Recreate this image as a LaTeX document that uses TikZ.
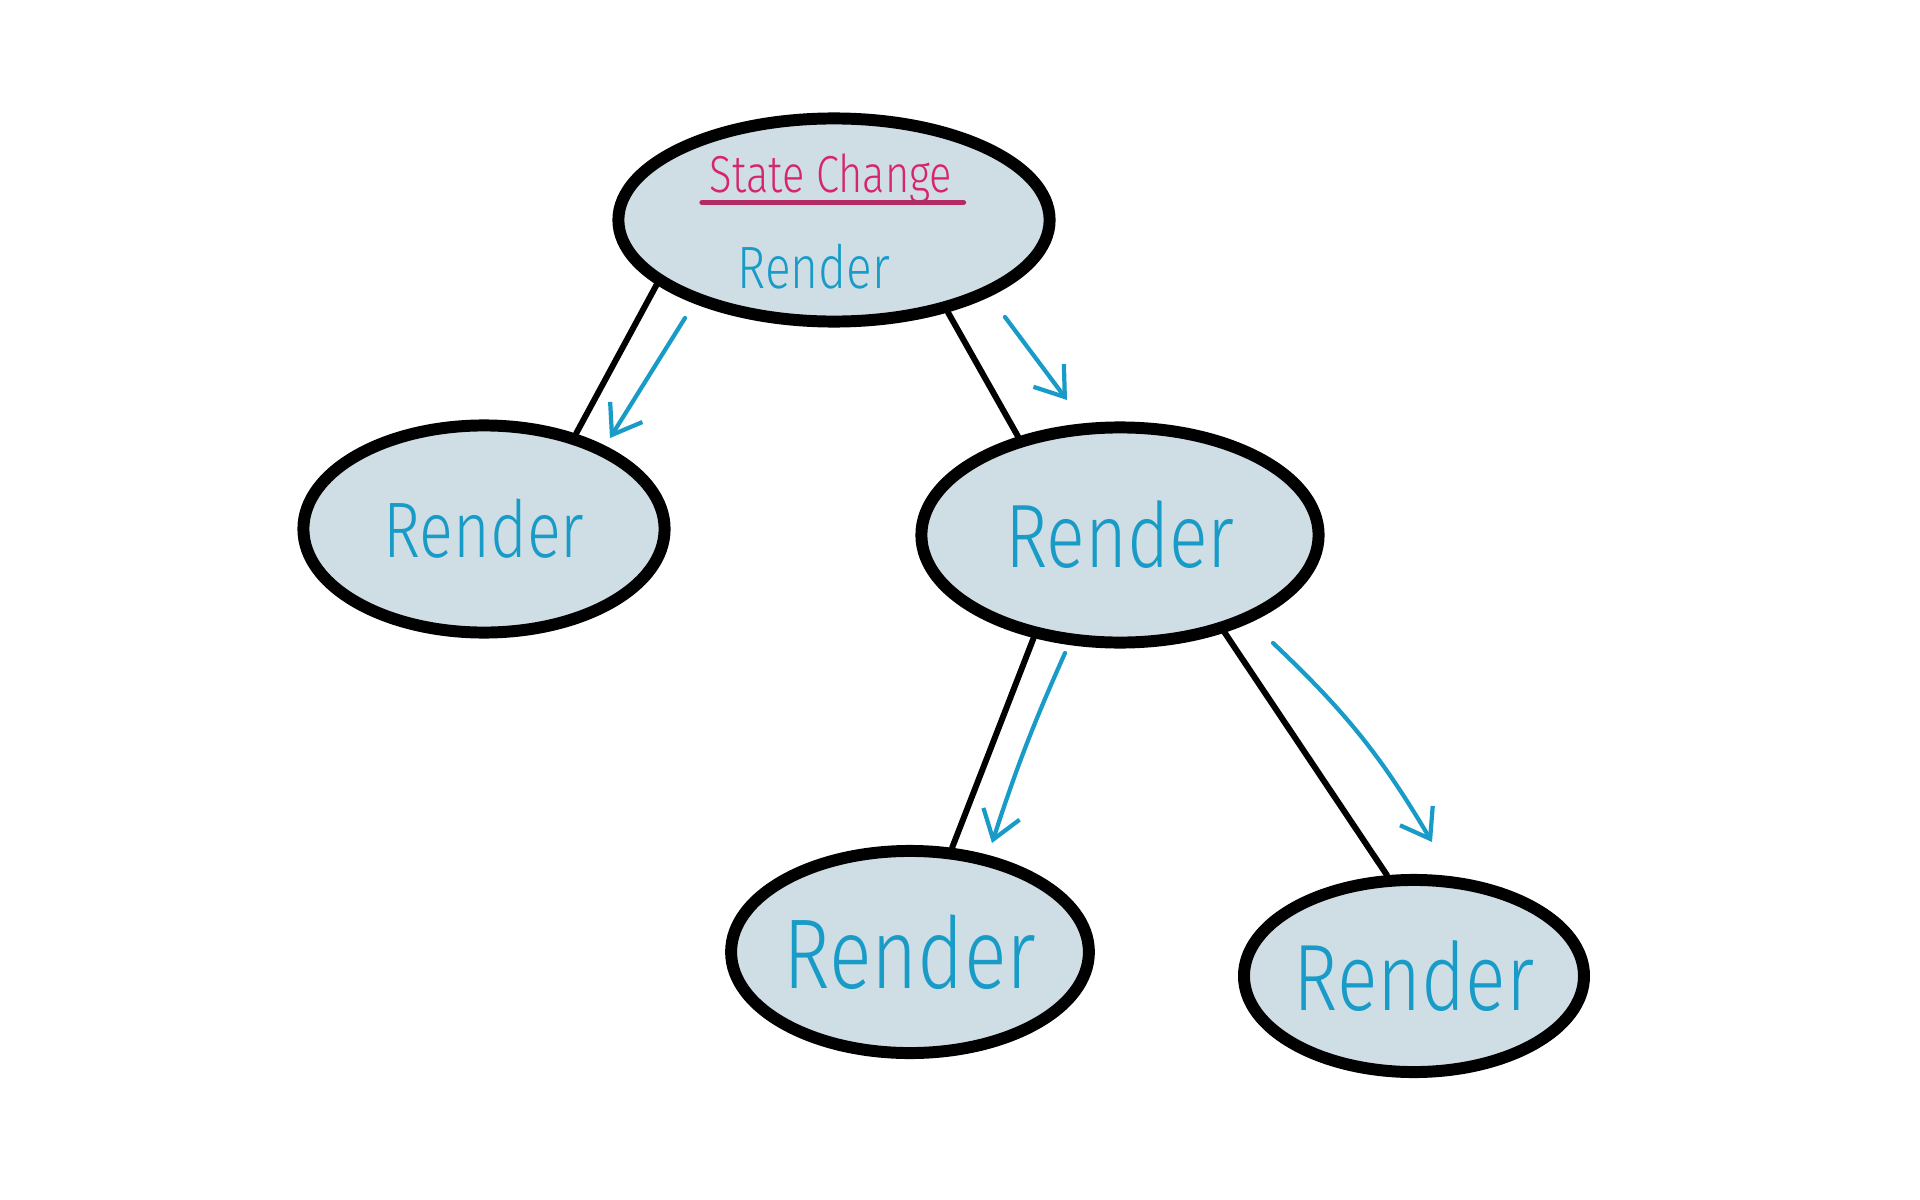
\documentclass[tikz,border=0pt]{standalone}
\usepackage{fontspec}
\setmainfont{Fira Sans}[FakeStretch=0.8, UprightFont=* Light]
\usetikzlibrary{shapes.geometric,arrows.meta}
\definecolor{blobfill}{RGB}{207,222,229}
\definecolor{renderblue}{RGB}{25,155,200}
\definecolor{statepink}{RGB}{214,36,110}
\definecolor{underpink}{RGB}{178,42,102}

\begin{document}
\begin{tikzpicture}[
    x=0.01cm, y=-0.01cm,
    blob/.style={ellipse, draw=black, line width=3.4pt, fill=blobfill, inner sep=0pt, text=renderblue},
    link/.style={line width=1.7pt, line cap=round},
    flow/.style={-{Straight Barb[length=2.7mm,width=3.8mm]}, draw=renderblue, line width=1.2pt, line cap=round}
]
    \useasboundingbox (0,0) rectangle (1920,1200);

    % render tree
    \node[blob, minimum width=4.31cm, minimum height=2.03cm] (top) at (834,220) {};
    \node[text=renderblue, font=\fontsize{17}{20}\selectfont] (toprender) at (814,267) {Render};
    \node[text=statepink, font=\fontsize{14.8}{18}\selectfont, inner sep=0pt] (chg) at (831,178) {State Change};
    \node[blob, minimum width=3.61cm, minimum height=2.07cm, font=\fontsize{22.4}{26}\selectfont] (left) at (484,529) {Render};
    \node[blob, minimum width=3.97cm, minimum height=2.15cm, font=\fontsize{25.6}{30}\selectfont] (mid) at (1120,535) {Render};
    \node[blob, minimum width=3.39cm, minimum height=2.02cm, font=\fontsize{28.2}{32}\selectfont] (bl) at (910,952) {Render};
    \node[blob, minimum width=3.36cm, minimum height=1.92cm, font=\fontsize{26.8}{30}\selectfont] (br) at (1414,976) {Render};

    \draw[underpink, line width=1.5pt, line cap=round] ([xshift=-2pt,yshift=-3pt]chg.base west) -- ([xshift=3pt,yshift=-3pt]chg.base east);

    \draw[link] (top.200) -- (left.46);
    \draw[link] (top.321) -- (mid.136);
    \draw[link] (mid.230) -- (bl.68);
    \draw[link] (mid.317) -- (br.105);

    % re-render flow
    \coordinate (f1a) at (685,318);
    \coordinate (f1b) at (610,438);
    \coordinate (f2a) at (1005,317);
    \coordinate (f2b) at (1067,400);
    \coordinate (f3a) at (1065,653);
    \coordinate (f3b) at (992,843);
    \coordinate (f4a) at (1273,643);
    \coordinate (f4b) at (1432,842);
    \draw[flow] (f1a) -- (f1b);
    \draw[flow] (f2a) -- (f2b);
    \draw[flow] (f3a) to[bend right=3] (f3b);
    \draw[flow] (f4a) to[bend left=8] (f4b);
\end{tikzpicture}
\end{document}
